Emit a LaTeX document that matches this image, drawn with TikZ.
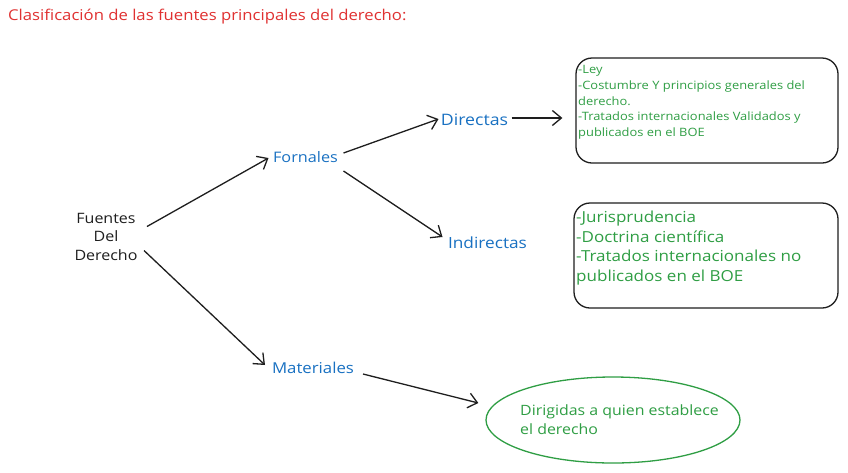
\documentclass[tikz,border=0pt]{standalone}
\usepackage{fontspec}
\setmainfont{Open Sans}[FakeStretch=1.12]
\usetikzlibrary{arrows.meta,shapes.geometric}
\definecolor{exred}{HTML}{E03131}
\definecolor{exblue}{HTML}{1971C2}
\definecolor{exgreen}{HTML}{2F9E44}
\definecolor{exblack}{HTML}{1E1E1E}
\tikzset{
  lbl/.style={inner sep=0pt, font=\fontsize{15}{18}\selectfont},
  bluelbl/.style={lbl, text=exblue},
  greentext/.style={inner sep=0pt, text=exgreen, align=left, anchor=north west},
  arr/.style={draw=exblack, line width=1.3pt, -{Straight Barb[length=9pt,width=15pt]}},
  rbox/.style={draw=exblack, line width=1.3pt, rounded corners=16pt, inner sep=0pt},
}
\begin{document}
\begin{tikzpicture}[x=1pt,y=-1pt]
\useasboundingbox[fill=white] (0,0) rectangle (848,472);

\node[lbl, text=exred, anchor=west, font=\fontsize{14.9}{18}\selectfont] (title) at (8,17) {Clasificación de las fuentes principales del derecho:};

\node[lbl, text=exblack, align=center, font=\fontsize{14.3}{18.5}\selectfont] (fuentes) at (106,236.5) {Fuentes\\Del\\Derecho};
\node[bluelbl, font=\fontsize{14.5}{18}\selectfont] (fornales) at (305.5,157) {Fornales};
\node[bluelbl, font=\fontsize{15.8}{18}\selectfont] (directas) at (474.5,120) {Directas};
\node[bluelbl, font=\fontsize{15.4}{18}\selectfont] (indirectas) at (487.5,243) {Indirectas};
\node[bluelbl] (materiales) at (313,368) {Materiales};

\node[rbox, minimum width=262pt, minimum height=105pt] (box1) at (707,110.5) {};
\node[greentext, font=\fontsize{11.5}{15.8}\selectfont] (box1text) at (578,65) {-Ley\\-Costumbre Y principios generales del\\derecho.\\-Tratados internacionales Validados y\\publicados en el BOE};

\node[rbox, minimum width=264pt, minimum height=105pt] (box2) at (706,255.5) {};
\node[greentext, font=\fontsize{15.2}{19.6}\selectfont] (box2text) at (576,211) {-Jurisprudencia\\-Doctrina científica\\-Tratados internacionales no\\publicados en el BOE};

\node[ellipse, draw=exgreen, line width=1.3pt, minimum width=254pt, minimum height=86pt, inner sep=0pt] (ell) at (613,420) {};
\node[greentext, font=\fontsize{14.2}{19}\selectfont] (elltext) at (520,404.5) {Dirigidas a quien establece\\el derecho};

\draw[arr] ([xshift=41pt,yshift=10pt]fuentes.center) -- ([xshift=-37pt,yshift=-1pt]fornales.center);
\draw[arr] ([xshift=38pt,yshift=-14pt]fuentes.center) -- ([xshift=-48pt,yshift=3pt]materiales.center);
\draw[arr] ([xshift=38pt,yshift=4pt]fornales.center) -- ([xshift=-36pt,yshift=1pt]directas.center);
\draw[arr] ([xshift=38pt,yshift=-14pt]fornales.center) -- ([xshift=-45pt,yshift=6pt]indirectas.center);
\draw[arr] ([xshift=37pt,yshift=2pt]directas.center) -- ([xshift=-13pt,yshift=-7.5pt]box1.west);
\draw[arr] ([xshift=50pt,yshift=-6pt]materiales.center) -- ([xshift=-7pt,yshift=17pt]ell.west);
\end{tikzpicture}
\end{document}
